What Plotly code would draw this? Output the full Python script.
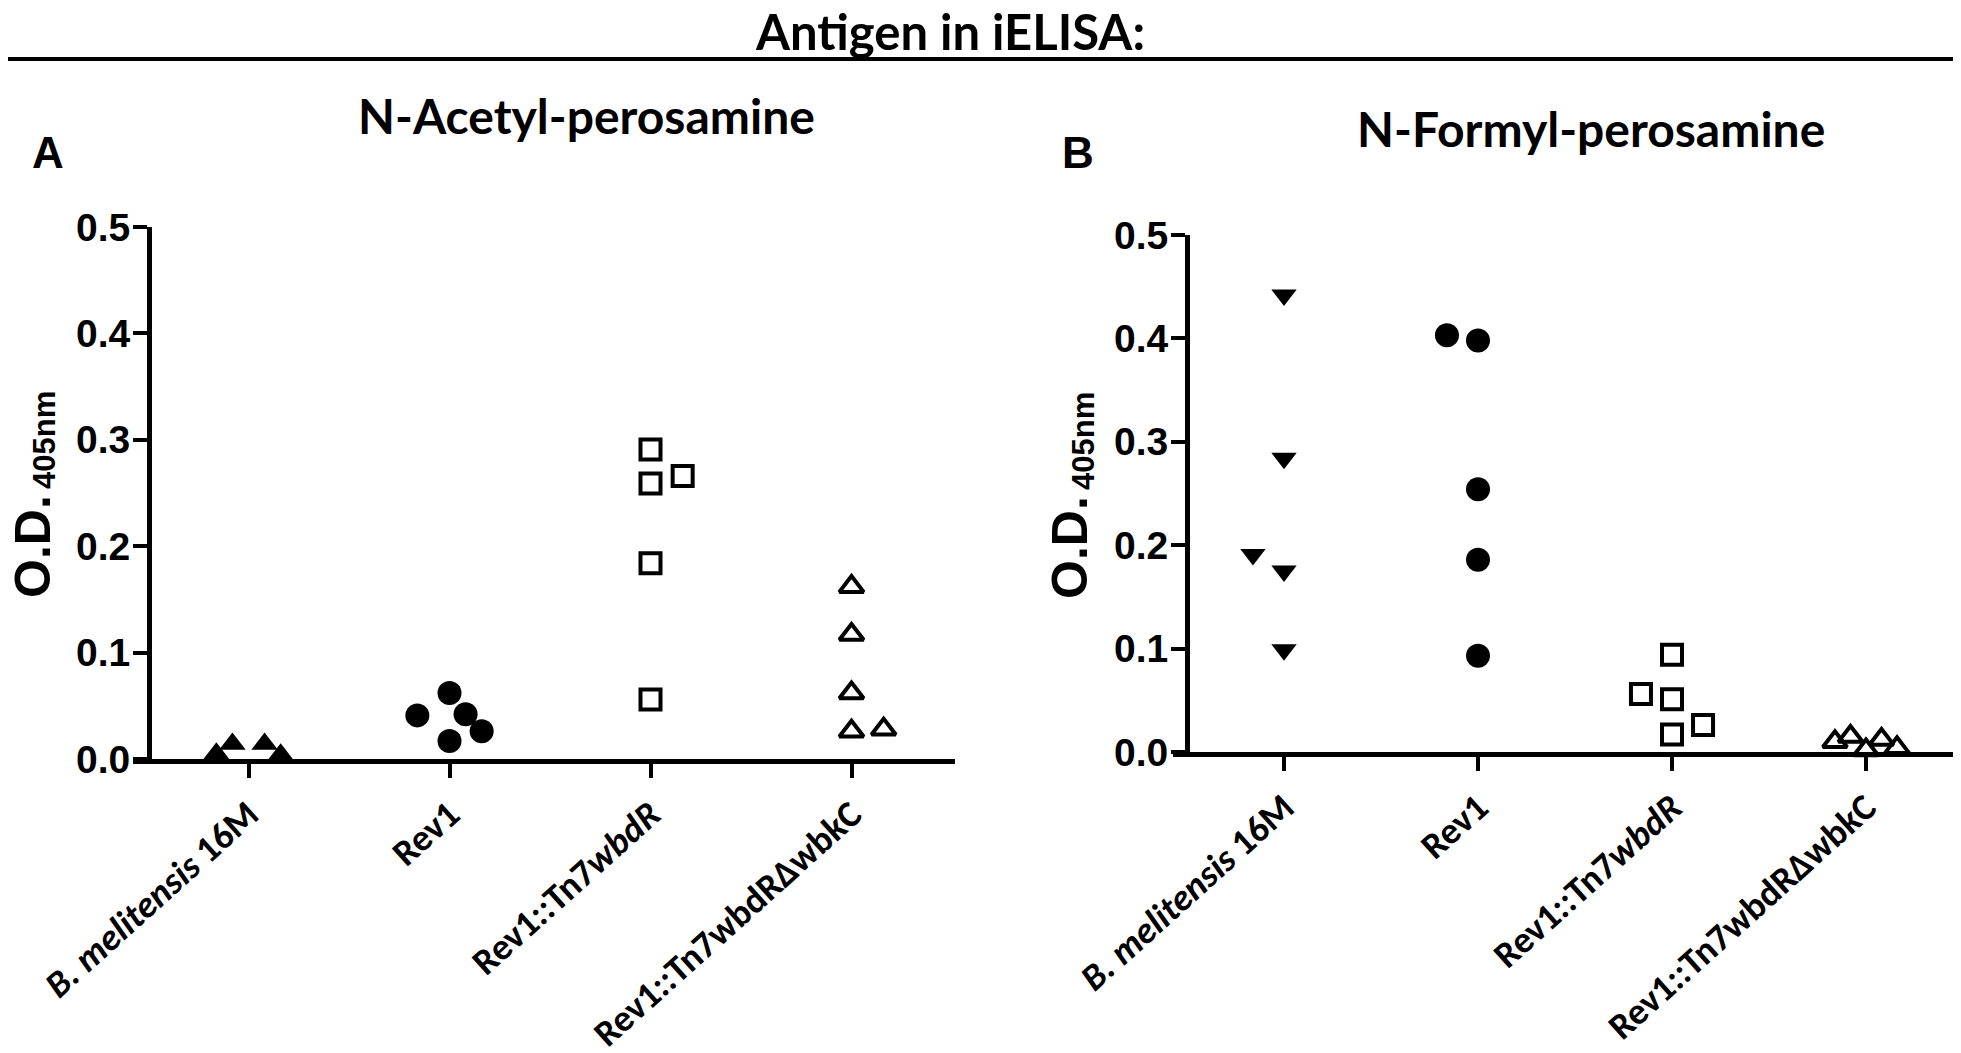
import plotly.graph_objects as go

W, H = 1961, 1053

categories = ["<i>B. melitensis</i> 16M", "Rev1", "Rev1::Tn7<i>wbdR</i>", "Rev1::Tn7wbdRΔwbkC"]
y_ticks = [0.0, 0.1, 0.2, 0.3, 0.4, 0.5]

# Panel A: N-Acetyl-perosamine antigen (O.D. 405nm)
a_b16m = [0.005, 0.014, -0.002, 0.014, 0.004]
a_rev1 = [0.041, 0.062, 0.042, 0.026, 0.017]
a_tn7 = [0.291, 0.259, 0.266, 0.184, 0.056]
a_dwbkc = [0.162, 0.117, 0.062, 0.026, 0.028]

# Panel B: N-Formyl-perosamine antigen (O.D. 405nm)
b_b16m = [0.442, 0.284, 0.191, 0.175, 0.099]
b_rev1 = [0.403, 0.398, 0.254, 0.186, 0.093]
b_tn7 = [0.094, 0.056, 0.051, 0.026, 0.017]
b_dwbkc = [0.010, 0.015, 0.002, 0.012, 0.004]

# horizontal scatter (jitter) of points within each column, in category units
a_jit = [[-0.16, -0.08, 0, 0.08, 0.16], [-0.16, 0, 0.08, 0.16, 0], [0, 0, 0.16, 0, 0], [0, 0, 0, 0, 0.16]]
b_jit = [[0, 0, -0.16, 0, 0], [-0.16, 0, 0, 0, 0], [0, -0.16, 0, 0.16, 0], [-0.16, -0.08, 0, 0.08, 0.16]]

a_groups = [a_b16m, a_rev1, a_tn7, a_dwbkc]
b_groups = [b_b16m, b_rev1, b_tn7, b_dwbkc]
a_sym = ["triangle-up", "circle", "square-open", "triangle-up-open"]
b_sym = ["triangle-down", "circle", "square-open", "triangle-up-open"]
sizes = {"triangle-up": 23, "triangle-down": 22, "circle": 24, "square-open": 20, "triangle-up-open": 21}


def px(x):
    return x / W


def py(y):
    return 1 - y / H


fig = go.Figure()
for panel, groups, syms, jit in (("A", a_groups, a_sym, a_jit), ("B", b_groups, b_sym, b_jit)):
    xa = "x" if panel == "A" else "x2"
    ya = "y" if panel == "A" else "y2"
    for i, (vals, sym, jj) in enumerate(zip(groups, syms, jit)):
        fig.add_trace(go.Scatter(
            x=[i + j for j in jj], y=vals, mode="markers", xaxis=xa, yaxis=ya,
            cliponaxis=False, showlegend=False, hoverinfo="y",
            marker=dict(symbol=sym, size=sizes[sym], color="black",
                        line=dict(color="black", width=4 if "open" in sym else 0)),
        ))

tickfont_y = dict(family="Liberation Sans, Arial", size=39, color="black", weight="bold")
tickfont_x = dict(family="Carlito, Lato", size=37, color="black", weight="bold")

common_x = dict(showgrid=False, zeroline=False, showline=True, linewidth=5, linecolor="black",
                ticks="outside", ticklen=14, tickwidth=4, tickcolor="black", automargin=False,
                tickvals=[0, 1, 2, 3], ticktext=categories, tickangle=-42, tickfont=tickfont_x)
common_y = dict(showgrid=False, zeroline=False, showline=True, linewidth=5, linecolor="black",
                ticks="outside", ticklen=14, tickwidth=4, tickcolor="black", automargin=False,
                tickvals=y_ticks, tickformat=".1f", range=[0, 0.5], tickfont=tickfont_y,
                ticklabelstandoff=-5, anchor="free")

# panel geometry in pixels
A_x0, A_x1, A_tick0, A_step, A_yaxis = 125, 947, 240.5, 201, 141
A_ytop, A_ybot = 219, 751
B_x0, B_x1, B_tick0, B_step, B_yaxis = 1165, 1961, 1276, 194, 1179
B_ytop, B_ybot = 227, 744

fig.update_layout(
    width=W, height=H, margin=dict(l=0, r=0, t=0, b=0, autoexpand=False),
    paper_bgcolor="white", plot_bgcolor="white",
    xaxis=dict(common_x, domain=[px(A_x0), px(A_x1)],
               range=[(A_x0 - A_tick0) / A_step, (A_x1 - A_tick0) / A_step], anchor="y"),
    yaxis=dict(common_y, domain=[py(A_ybot), py(A_ytop)], position=px(A_yaxis)),
    xaxis2=dict(common_x, domain=[px(B_x0), px(B_x1)],
                range=[(B_x0 - B_tick0) / B_step, (B_x1 - B_tick0) / B_step], anchor="y2"),
    yaxis2=dict(common_y, domain=[py(B_ybot), py(B_ytop)], position=px(B_yaxis)),
)

title_font = dict(family="Lato", size=49, color="black", weight="bold")
sub_font = dict(family="Lato", size=48, color="black", weight="bold")
arial_b = lambda s: dict(family="Liberation Sans, Arial", size=s, color="black", weight="bold")
ann = [
    dict(text="Antigen in iELISA:", x=px(942), y=py(23), font=title_font),
    dict(text="N-Acetyl-perosamine", x=px(578), y=py(107), font=sub_font),
    dict(text="N-Formyl-perosamine", x=px(1583), y=py(120), font=sub_font),
    dict(text="A", x=px(40), y=py(145), font=arial_b(44)),
    dict(text="B", x=px(1070), y=py(145), font=arial_b(44)),
    dict(text="O.D.", x=px(25), y=py(539), textangle=-90, font=arial_b(50)),
    dict(text="405nm", x=px(36), y=py(432), textangle=-90, font=arial_b(31)),
    dict(text="O.D.", x=px(1062), y=py(540), textangle=-90, font=arial_b(50)),
    dict(text="405nm", x=px(1075), y=py(433), textangle=-90, font=arial_b(31)),
]
for a in ann:
    a.update(xref="paper", yref="paper", showarrow=False, xanchor="center", yanchor="middle")
fig.update_layout(annotations=ann)

fig.add_shape(type="line", xref="paper", yref="paper", x0=0, x1=1, y0=py(51), y1=py(51),
              line=dict(color="black", width=4))

fig.write_html("out.html")
